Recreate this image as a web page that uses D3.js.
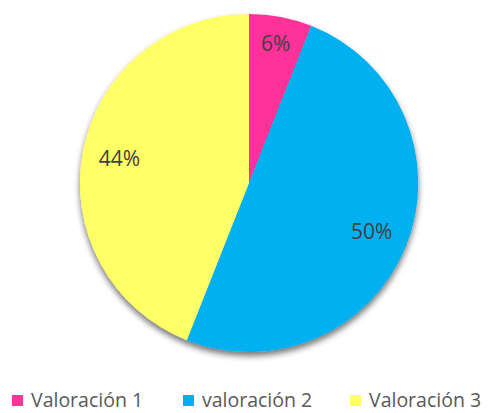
<!DOCTYPE html>
<html>
<head>
<meta charset="utf-8">
<script src="https://cdn.jsdelivr.net/npm/d3@7"></script>
<style>
	body { margin: 0; background: #fff; }
	text { font-family: "Open Sans", "Liberation Sans", sans-serif; }
</style>
</head>
<body>
<svg id="chart" width="493" height="413"></svg>
<script>
var categories = ["Valoración 1", "valoración 2", "Valoración 3"];
var values = [6, 50, 44];
var colors = ["#FF3399", "#00B0F0", "#FFFF66"];

var svg = d3.select("#chart");
var cx = 249, cy = 183, radius = 169;

var defs = svg.append("defs");
var filter = defs.append("filter").attr("id", "shadow")
	.attr("x", "-10%").attr("y", "-10%").attr("width", "120%").attr("height", "125%");
filter.append("feGaussianBlur").attr("in", "SourceAlpha").attr("stdDeviation", 3);
filter.append("feOffset").attr("dx", 0).attr("dy", 4).attr("result", "off");
filter.append("feComponentTransfer").append("feFuncA").attr("type", "linear").attr("slope", 0.55);
var merge = filter.append("feMerge");
merge.append("feMergeNode");
merge.append("feMergeNode").attr("in", "SourceGraphic");

var data = categories.map(function(c, i){ return {name: c, value: values[i], color: colors[i]}; });

var pie = d3.pie().sort(null).value(function(d){ return d.value; });
var arc = d3.arc().innerRadius(0).outerRadius(radius);
var total = d3.sum(values);

var g = svg.append("g").attr("transform", "translate(" + cx + "," + cy + ")");

g.append("g").attr("filter", "url(#shadow)")
	.selectAll("path")
	.data(pie(data))
	.enter().append("path")
	.attr("d", arc)
	.attr("fill", function(d){ return d.data.color; });

// label positions roughly as the original places them
var labelPos = [0.84, 0.78, 0.78];

g.selectAll("text.lbl")
	.data(pie(data))
	.enter().append("text")
	.attr("class", "lbl")
	.attr("transform", function(d, i){
		var r = radius * labelPos[i];
		var a = (d.startAngle + d.endAngle) / 2;
		return "translate(" + (Math.sin(a) * r) + "," + (-Math.cos(a) * r) + ")";
	})
	.attr("text-anchor", "middle")
	.attr("dy", "0.35em")
	.attr("fill", "#404040")
	.style("font-size", "21px")
	.text(function(d){ return Math.round(d.data.value / total * 100) + "%"; });

// legend
var legendX = [12, 183, 350];
var legend = svg.append("g").selectAll("g")
	.data(data)
	.enter().append("g")
	.attr("transform", function(d, i){ return "translate(" + legendX[i] + ",395)"; });

legend.append("rect")
	.attr("width", 11).attr("height", 11)
	.attr("fill", function(d){ return d.color; });

legend.append("text")
	.attr("x", 19).attr("y", 12)
	.attr("fill", "#595959")
	.style("font-size", "19.5px")
	.text(function(d){ return d.name; });
</script>
</body>
</html>
